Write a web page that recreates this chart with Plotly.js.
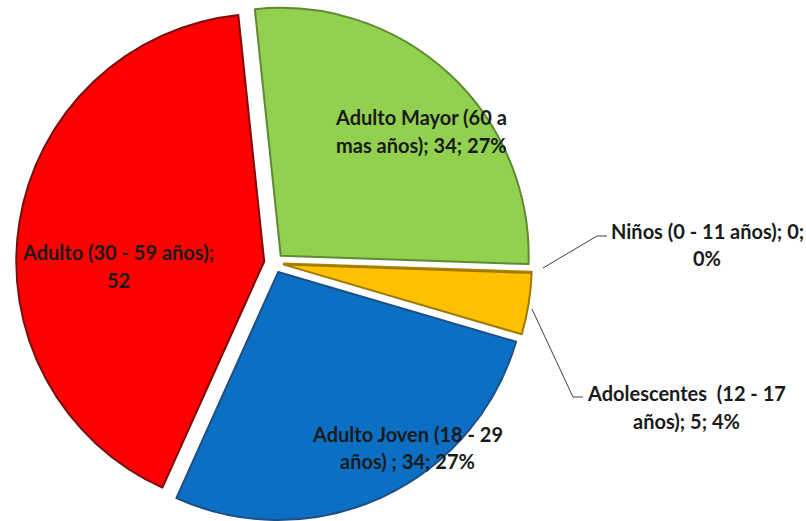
<!DOCTYPE html>
<html>
<head>
<meta charset="utf-8">
<script src="https://cdn.plot.ly/plotly-3.0.1.min.js"></script>
<style>
  html, body { margin: 0; padding: 0; background: #ffffff; overflow: hidden; }
  #chart { width: 806px; height: 521px; }
</style>
</head>
<body>
<div id="chart"></div>
<script>
// ---- data ----
var categories = [
  "Adulto Mayor (60 a mas años)",
  "Niños (0 - 11 años)",
  "Adolescentes  (12 - 17 años)",
  "Adulto Joven (18 - 29 años) ",
  "Adulto (30 - 59 años)"
];
var values = [34, 0, 5, 34, 52];
var percentLabels = ["27%", "0%", "4%", "27%", ""];

// ---- styling / layout ----
var W = 806, H = 521;
var sliceColors = ["#92d050", "#ffc000", "#ffc000", "#0b70c4", "#ff0000"];
var sliceEdge = ["#5f8a32", "#b08400", "#a07a00", "#1d4f86", "#7a0e0e"];
var breakAfterWords = [4, 6, 5, 5, 5];
// label line centres in pixels [x, y1, y2]
var labelPos = [
  [421, 117, 145],
  [707, 231, 258],
  [686, 393, 421],
  [407, 434, 461],
  [118, 252, 280]
];

function labelText(i) {
  var parts = [categories[i], String(values[i])];
  if (percentLabels[i]) parts.push(percentLabels[i]);
  return parts.join("; ");
}

var annotations = [];
for (var i = 0; i < categories.length; i++) {
  var words = labelText(i).split(" ");
  var lines = [words.slice(0, breakAfterWords[i]).join(" "), words.slice(breakAfterWords[i]).join(" ")];
  for (var k = 0; k < 2; k++) {
    annotations.push({
      xref: "paper", yref: "paper",
      x: labelPos[i][0] / W, y: 1 - labelPos[i][k + 1] / H,
      xanchor: "center", yanchor: "middle",
      text: lines[k].replace(/  /g, " &nbsp;"),
      showarrow: false,
      font: { family: "Lato, 'Open Sans', sans-serif", size: 20, color: "#1a1a1a", weight: 700 }
    });
  }
}

function px(x, y) { return (x / W).toFixed(4) + "," + (1 - y / H).toFixed(4); }
var leaderLines = [
  [[543, 268], [597, 236], [607, 236]],
  [[532, 309], [573, 397], [583, 397]]
];
var shapes = leaderLines.map(function (pts) {
  return {
    type: "path", xref: "paper", yref: "paper",
    path: "M" + pts.map(function (p) { return px(p[0], p[1]); }).join(" L"),
    line: { color: "#404040", width: 1 }
  };
});

var trace = {
  type: "pie",
  labels: categories,
  values: values,
  sort: false,
  direction: "clockwise",
  rotation: -6,
  pull: 0.04,
  textinfo: "none",
  hoverinfo: "label+value+percent",
  marker: {
    colors: sliceColors,
    line: { color: sliceEdge, width: 2 }
  },
  domain: { x: [0.0199, 0.660], y: [0.0002, 0.990] },
  showlegend: false
};

var layout = {
  width: W, height: H,
  margin: { l: 0, r: 0, t: 0, b: 0 },
  paper_bgcolor: "#ffffff",
  plot_bgcolor: "#ffffff",
  showlegend: false,
  annotations: annotations,
  shapes: shapes
};

Plotly.newPlot("chart", [trace], layout, { displayModeBar: false, staticPlot: true });
</script>
</body>
</html>
